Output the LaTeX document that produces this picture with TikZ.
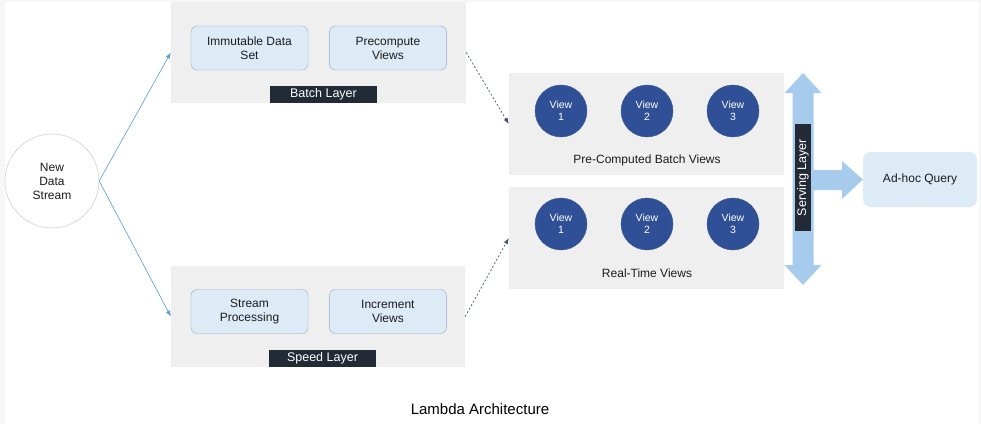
\documentclass[tikz,border=0pt]{standalone}
\usepackage{fontspec}
\setmainfont{Liberation Sans}
\usetikzlibrary{positioning,arrows.meta}

\definecolor{layergray}{HTML}{EFEFEF}
\definecolor{boxblue}{HTML}{DDEBF7}
\definecolor{boxline}{HTML}{8EA9CB}
\definecolor{tagdark}{HTML}{222A35}
\definecolor{viewblue}{HTML}{2F5097}
\definecolor{servblue}{HTML}{A7CBEC}
\definecolor{flowblue}{HTML}{5B9BD5}
\definecolor{flowdark}{HTML}{44546A}
\definecolor{txt}{HTML}{1C1C1C}

\begin{document}
\begin{tikzpicture}[x=1pt,y=-1pt,
    layer/.style={rectangle,fill=layergray,inner sep=0pt},
    task/.style={rectangle,rounded corners=6pt,draw=boxline,fill=boxblue,
		minimum width=117pt,minimum height=44pt,align=center,
		text=txt,font=\fontsize{12}{14}\selectfont},
    tag/.style={rectangle,fill=tagdark,text=white,minimum width=107pt,
		minimum height=17pt,inner sep=0pt,font=\fontsize{12.5}{13}\selectfont},
    view/.style={circle,fill=viewblue,draw=viewblue!80!gray,minimum size=52pt,
		inner sep=0pt,align=center,text=white,font=\fontsize{10.5}{12}\selectfont},
    caption/.style={text=txt,font=\fontsize{12}{13}\selectfont},
% connector styles
    feed/.style={draw=flowblue,line width=0.6pt,-{Latex[length=6pt,width=4.5pt]}},
    merge/.style={draw=flowdark,line width=0.7pt,dash pattern=on 2pt off 2pt,
		-{Latex[length=6pt,width=4.5pt]}}
    ]
%%% frame
   \fill[black!3] (0,0) rectangle (981,424);
   \fill[white] (5,2) rectangle (979,424);

%%% source
   \node [circle,draw=black!25,minimum size=94pt,align=center,text=txt,
		font=\fontsize{12}{14}\selectfont] (src) at (52,181) {New\\Data\\Stream};

%%% batch and speed layers
   \node [layer,minimum width=295pt,minimum height=101pt] (batch) at (318.5,52.5) {};
   \node [task] (immut) at (249.5,48) {Immutable Data\\Set};
   \node [task] (precomp) [right=21pt of immut] {Precompute\\Views};
   \node [tag] (batchtag) at (323.5,94.5) {Batch Layer};

   \node [layer,minimum width=294pt,minimum height=101pt] (speed) at (318,316.5) {};
   \node [task] (stream) at (249.5,311.5) {Stream\\Processing};
   \node [task] (incr) [right=21pt of stream] {Increment\\Views};
   \node [tag] (speedtag) at (322.5,358.5) {Speed Layer};

%%% views
   \node [layer,minimum width=275pt,minimum height=102pt] (bviews) at (646.5,124) {};
   \node [layer,minimum width=275pt,minimum height=102pt] (rviews) at (646.5,238) {};
   \foreach \i/\x in {1/561,2/647,3/733}{
       \node [view] (bv\i) at (\x,111) {View\\\i};
       \node [view] (rv\i) at (\x,224) {View\\\i};
   }
   \node [caption] (blabel) at (647,160) {Pre-Computed Batch Views};
   \node [caption] (rlabel) at (647,273) {Real-Time Views};

%%% serving layer
   \node [rectangle,rounded corners=8pt,fill=boxblue,minimum width=114pt,
		minimum height=55pt,text=txt,font=\fontsize{12}{13}\selectfont]
		(query) at (920,179.5) {Ad-hoc Query};
   \fill[servblue] (803,73) -- (821.5,93) -- (813.5,93) -- (813.5,265) -- (821.5,265)
		-- (803,285) -- (784.5,265) -- (792.5,265) -- (792.5,93) -- (784.5,93) -- cycle;
   \fill[servblue] (805,170) -- (842,170) -- (842,161) -- (query.west) -- (842,199)
		-- (842,190) -- (805,190) -- cycle;
   \node [tag,rotate=90,minimum height=16pt] (servtag) at (803,177.5) {Serving Layer};

%%% connectors
   \draw[feed] (src.east) -- (batch.west);
   \draw[feed] (src.east) -- (speed.west);
   \draw[merge] (batch.east) -- (bviews.west);
   \draw[merge] (speed.east) -- (rviews.west);

   \node [text=black,font=\fontsize{15}{17}\selectfont] (title) at (480,409) {Lambda Architecture};
\end{tikzpicture}
\end{document}
